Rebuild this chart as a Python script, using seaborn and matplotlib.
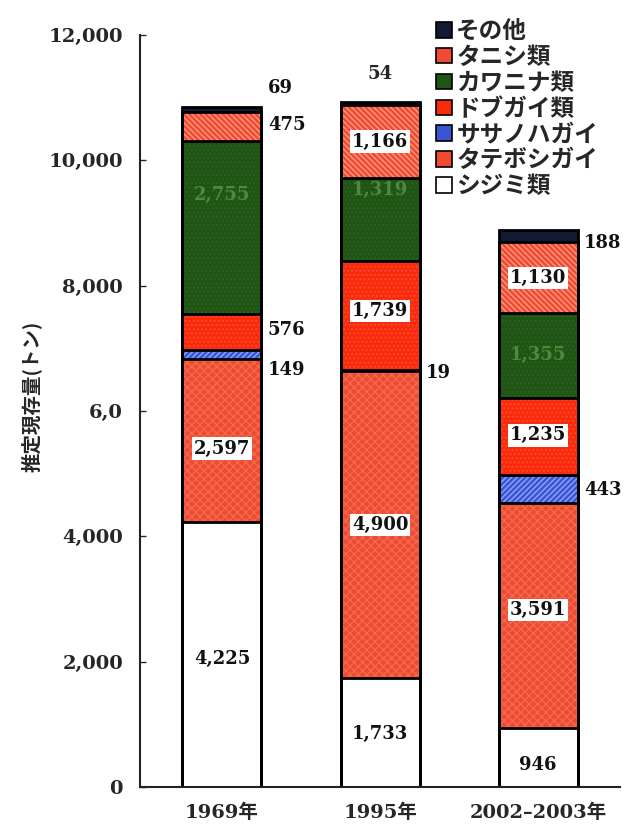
import matplotlib
matplotlib.use("Agg")
import matplotlib.pyplot as plt
from matplotlib.patches import Patch
import numpy as np
import pandas as pd
import seaborn as sns

sns.set_theme(style="white")
plt.rcParams['font.family'] = ['DejaVu Serif', 'Noto Sans CJK JP']

categories = ["1969年", "1995年", "2002–2003年"]
species = ["シジミ類", "タテボシガイ", "ササノハガイ", "ドブガイ類", "カワニナ類", "タニシ類", "その他"]
shijimi = [4225, 1733, 946]
tateboshi = [2597, 4900, 3591]
sasanoha = [149, 19, 443]
dobugai = [576, 1739, 1235]
kawanina = [2755, 1319, 1355]
tanishi = [475, 1166, 1130]
sonota = [69, 54, 188]
yticks = [0, 2000, 4000, 6000, 8000, 10000, 12000]
yticklabels = ["0", "2,000", "4,000", "6,0", "8,000", "10,000", "12,000"]

layers = [shijimi, tateboshi, sasanoha, dobugai, kawanina, tanishi, sonota]
faces = ["#ffffff", "#f04a32", "#3b55d0", "#fa2a0c", "#1f5414", "#f04a32", "#121a33"]
hatchcols = ["#ffffff", "#f46a4c", "#8ea4ff", "#ff4a28", "#2a6220", "#ff9a80", "#1e2848"]
hatches = [None, "xxxx", "//////", "....", "....", "\\\\\\\\\\\\", None]

df = pd.DataFrame({"cat": categories})
vals = np.array(layers, dtype=float)
cum = np.cumsum(vals, axis=0)

fig = plt.figure(figsize=(6.24, 8.32), dpi=100)
ax = fig.add_axes([0.224, 0.054, 0.770, 0.904])

# filled layers, tallest first
for i in range(len(layers) - 1, -1, -1):
    d = df.copy()
    d["v"] = cum[i]
    sns.barplot(data=d, x="cat", y="v", color=faces[i], saturation=1, width=0.5,
                edgecolor=hatchcols[i], linewidth=0, hatch=hatches[i], ax=ax)
# outlines
for i in range(len(layers) - 1, -1, -1):
    d = df.copy()
    d["v"] = cum[i]
    sns.barplot(data=d, x="cat", y="v", color="black", fill=False, width=0.5,
                linewidth=2.0, ax=ax)

ax.set_xlim(-0.52, 2.52)
ax.set_ylim(0, 12000)
ax.set_yticks(yticks)
ax.set_yticklabels(yticklabels)
ax.set_xlabel("")
ax.set_ylabel("推定現存量(トン)", family=['Noto Sans CJK JP'], fontweight='bold',
              fontsize=14)
ax.yaxis.set_label_coords(-0.205, 0.52)
for s in ["top", "right"]:
    ax.spines[s].set_visible(False)
for s in ["left", "bottom"]:
    ax.spines[s].set_color("#222222")
    ax.spines[s].set_linewidth(1.5)
ax.tick_params(axis="y", direction="in", length=4, width=1, left=True, pad=12,
               labelsize=14)
ax.tick_params(axis="x", length=0, pad=12, labelsize=14)
for lab in ax.get_yticklabels() + ax.get_xticklabels():
    lab.set_fontweight("bold")
    lab.set_family(['DejaVu Serif', 'Noto Sans CJK JP'])

box = dict(facecolor="white", edgecolor="none", pad=1.5)
green = "#4d8a3c"
fs = 13

def lab(xi, v, y, mode, color="#111111"):
    txt = f"{v:,}"
    if mode == "in":
        ax.text(xi, y, txt, ha="center", va="center", fontsize=fs, fontweight="bold",
                color=color)
    elif mode == "box":
        ax.text(xi, y, txt, ha="center", va="center", fontsize=fs, fontweight="bold",
                color=color, bbox=box)
    else:
        ax.text(xi + 0.29, y, txt, ha="left", va="center", fontsize=fs, fontweight="bold",
                color=color)

lab(0, shijimi[0], 2050, "in")
lab(0, tateboshi[0], 5400, "box")
lab(0, sasanoha[0], 6650, "out")
lab(0, dobugai[0], 7290, "out")
lab(0, kawanina[0], 9450, "in", green)
lab(0, tanishi[0], 10560, "out")
lab(0, sonota[0], 11150, "out")

lab(1, shijimi[1], 850, "in")
lab(1, tateboshi[1], 4180, "box")
lab(1, sasanoha[1], 6600, "out")
lab(1, dobugai[1], 7600, "box")
lab(1, kawanina[1], 9520, "in", green)
lab(1, tanishi[1], 10300, "box")
ax.text(1, 11380, f"{sonota[1]:,}", ha="center", va="center", fontsize=fs, fontweight="bold")

lab(2, shijimi[2], 350, "in")
lab(2, tateboshi[2], 2820, "box")
lab(2, sasanoha[2], 4740, "out")
lab(2, dobugai[2], 5610, "box")
lab(2, kawanina[2], 6890, "in", green)
lab(2, tanishi[2], 8120, "box")
lab(2, sonota[2], 8680, "out")

handles = [Patch(facecolor=faces[i], edgecolor="black", hatch=None, linewidth=1.2,
                 label=species[i]) for i in range(len(species) - 1, -1, -1)]
leg = fig.legend(handles=handles, loc="upper right", bbox_to_anchor=(0.985, 0.997),
                 frameon=False, prop={"family": ["Noto Sans CJK JP"], "weight": "bold",
                                      "size": 17},
                 handlelength=0.65, handleheight=0.65, handletextpad=0.2,
                 labelspacing=0.08, borderpad=0.2)

fig.savefig("out.png", dpi=100)
